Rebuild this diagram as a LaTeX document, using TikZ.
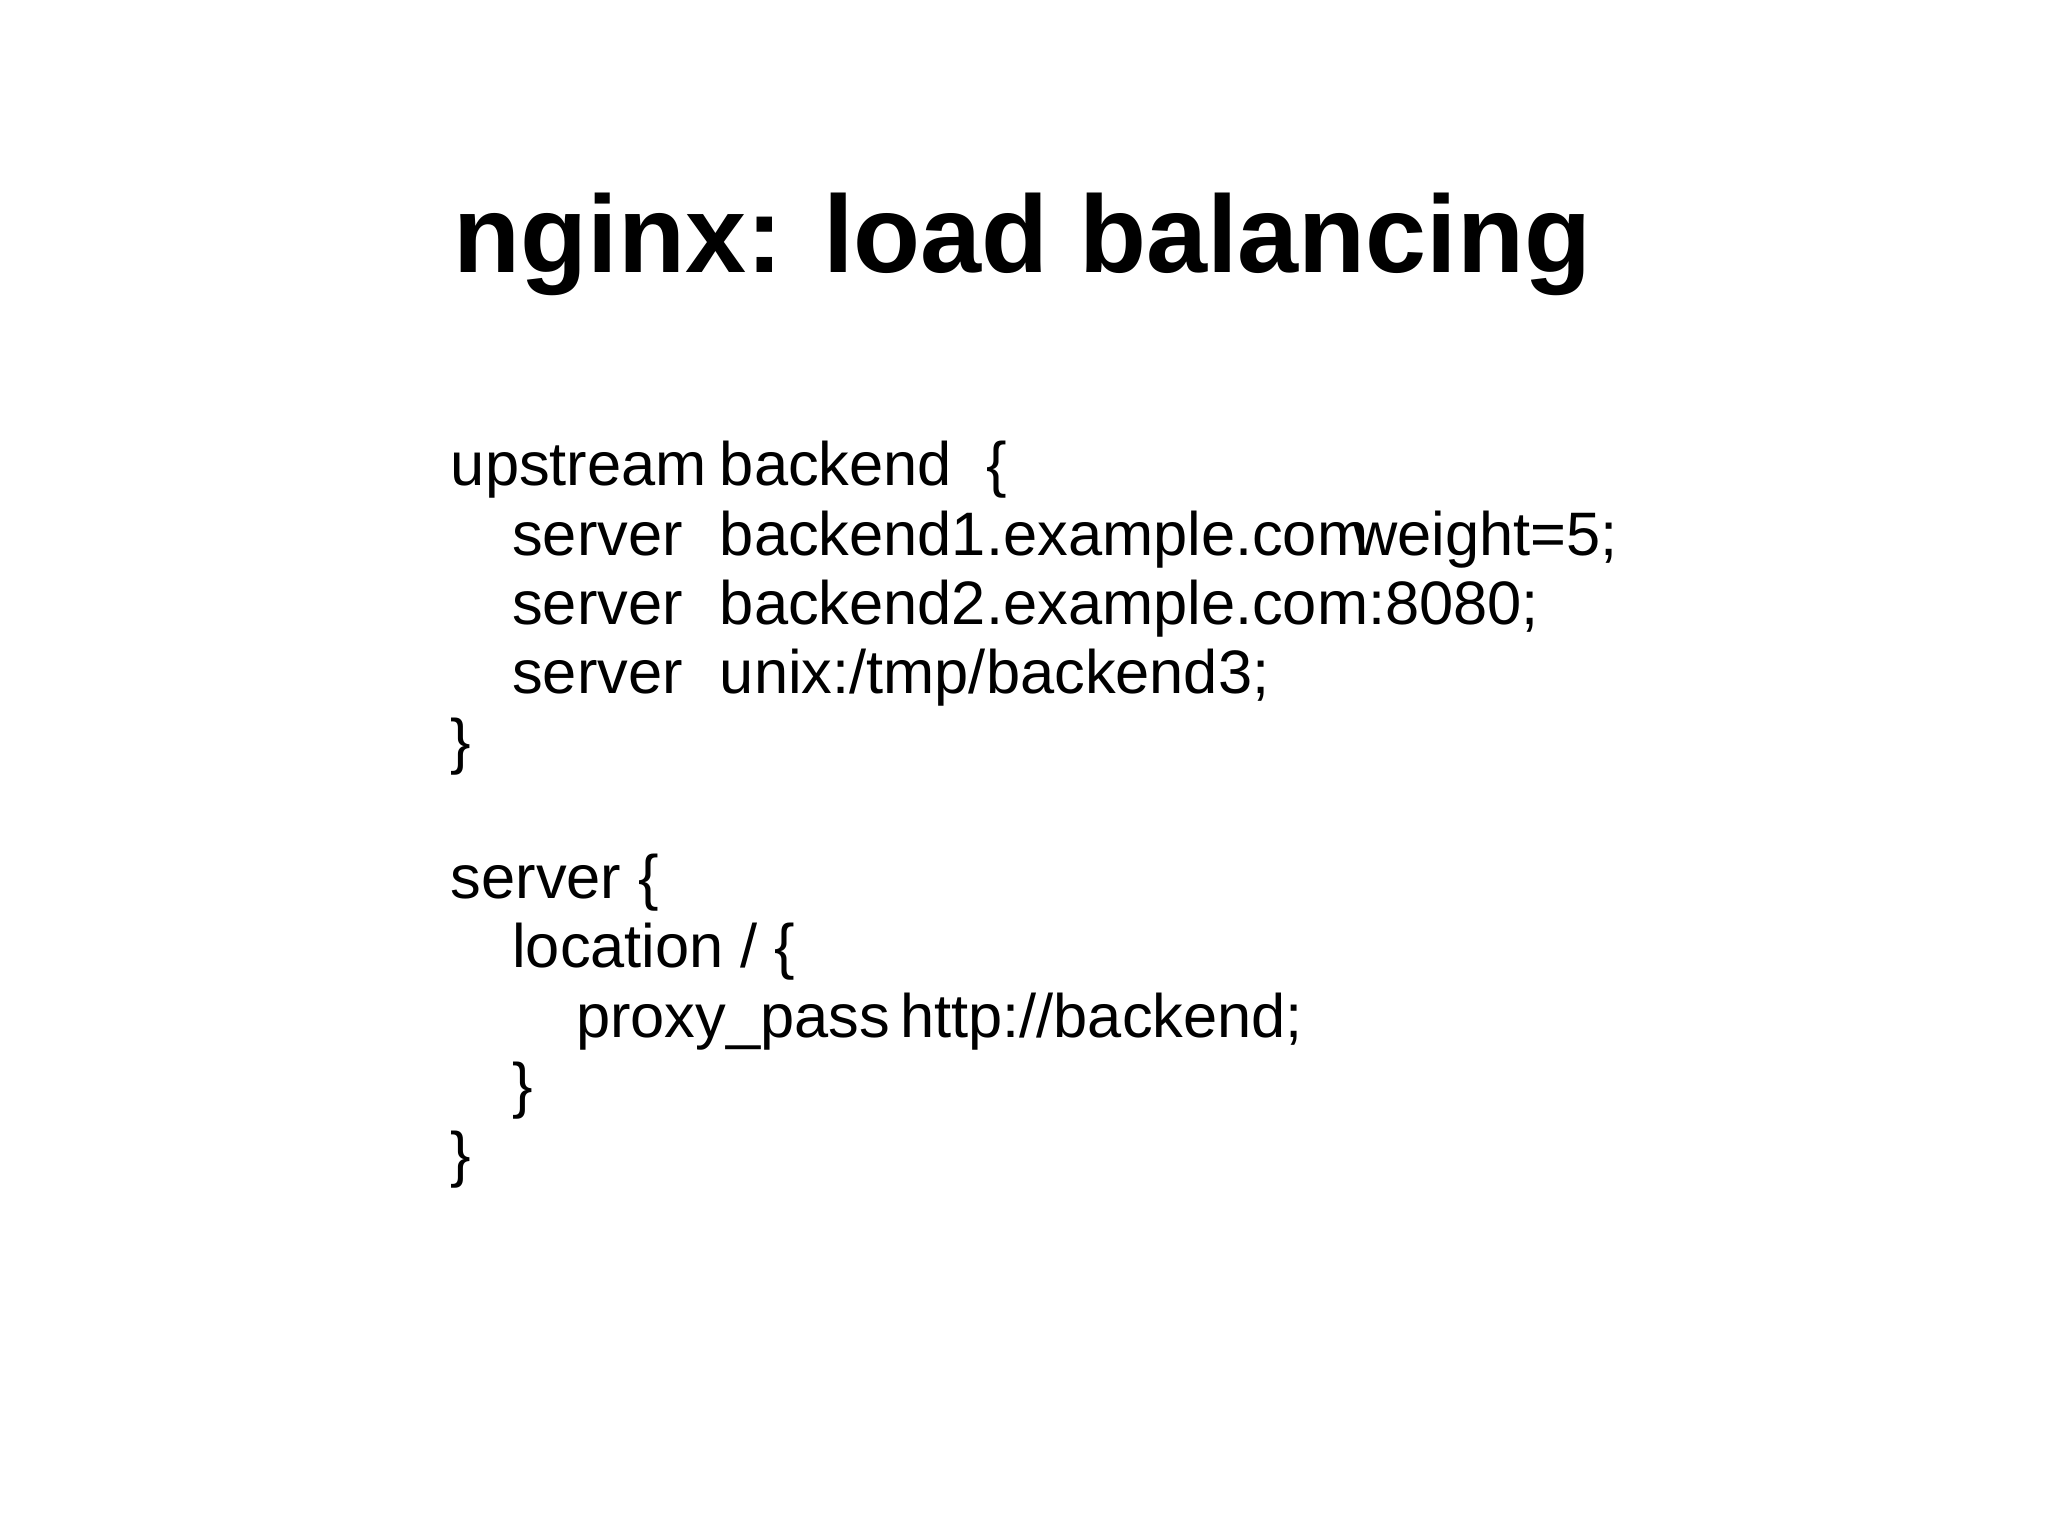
\documentclass[tikz,border=0pt]{standalone}
\usepackage{fontspec}
\setmainfont{Liberation Sans}
\begin{document}
\begin{tikzpicture}[x=1pt,y=-1pt,
  code/.style={anchor=base west,inner sep=0pt,font=\fontsize{47}{52}\selectfont},
  ttl/.style={anchor=base west,inner sep=0pt,font=\fontsize{84}{90}\selectfont\bfseries}]
\useasboundingbox (0,0) rectangle (1568,1176);
\fill[white] (0,0) rectangle (1568,1176);
\node[ttl] (t) at (347,209) {nginx: load balancing};
\node[code] (a1) at (345,372) {upstream};
\node[code] (a2) at (551,372) {backend\ \ \{};
\node[code] (b1) at (392,425) {server};
\node[code] (b2) at (551,425) {backend1.example.com};
\node[code] (b3) at (1036,425) {weight=5;};
\node[code] (c1) at (392,478) {server};
\node[code] (c2) at (551,478) {backend2.example.com:8080;};
\node[code] (d1) at (392,531) {server};
\node[code] (d2) at (551,531) {unix:/tmp/backend3;};
\node[code] (e1) at (345,584) {\}};
\node[code] (f1) at (345,688) {server \{};
\node[code] (g1) at (392,741) {location / \{};
\node[code] (h1) at (441,794) {proxy\_pass};
\node[code] (h2) at (689,794) {http://backend;};
\node[code] (i1) at (392,847) {\}};
\node[code] (j1) at (345,900) {\}};
\end{tikzpicture}
\end{document}
